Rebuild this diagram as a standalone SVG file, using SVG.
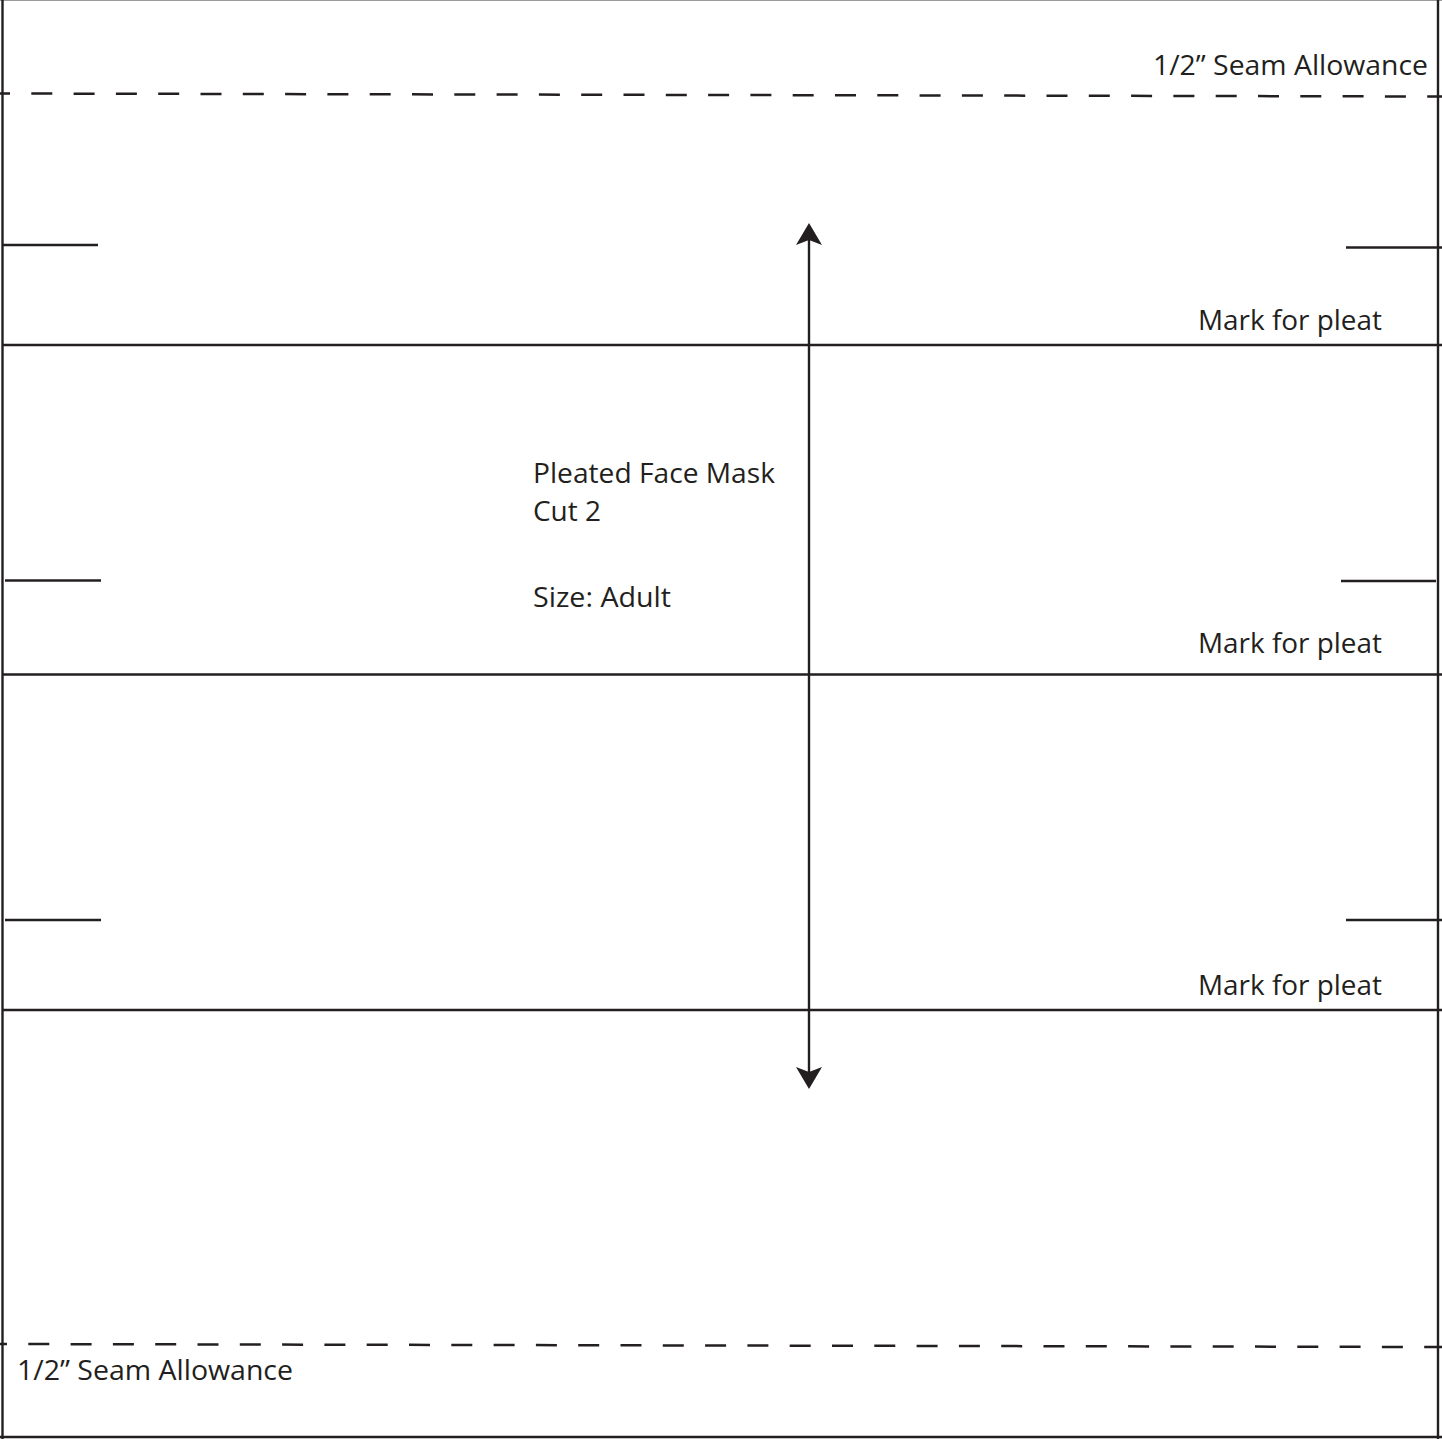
<svg xmlns="http://www.w3.org/2000/svg" width="1442" height="1439" viewBox="0 0 1442 1439">
<style>
.ln{stroke:#231f20;stroke-width:2.4;fill:none}
.dash{stroke:#231f20;stroke-width:2.5;fill:none;stroke-dasharray:21 21.3}
.t{font-family:"Open Sans","Noto Sans",sans-serif;font-size:27px;fill:#231f20}
.head{fill:#231f20}
</style>
<rect width="1442" height="1439" fill="#ffffff"/>
<g id="border">
<line x1="0" y1="0.5" x2="1442" y2="0.5" style="stroke:#9a9a9a;stroke-width:1"/>
<line class="ln" x1="2.5" y1="0" x2="2.5" y2="1439"/>
<line class="ln" x1="1438" y1="0" x2="1438" y2="1439"/>
<line class="ln" x1="0" y1="1437" x2="1442" y2="1437"/>
</g>
<g id="seam-lines">
<line class="dash" x1="0" y1="93.5" x2="1442" y2="96.5" style="stroke-dashoffset:11"/>
<line class="dash" x1="0" y1="1344" x2="1442" y2="1347" style="stroke-dashoffset:14"/>
</g>
<g id="pleat-lines">
<line class="ln" x1="3" y1="345" x2="1442" y2="345"/>
<line class="ln" x1="3" y1="674.5" x2="1442" y2="674.5"/>
<line class="ln" x1="3" y1="1010" x2="1442" y2="1010"/>
</g>
<g id="pleat-ticks">
<line class="ln" x1="3" y1="245" x2="98" y2="245"/>
<line class="ln" x1="1346" y1="247.5" x2="1442" y2="247.5"/>
<line class="ln" x1="5" y1="580.5" x2="101" y2="580.5"/>
<line class="ln" x1="1341" y1="581" x2="1436" y2="581"/>
<line class="ln" x1="5" y1="920" x2="101" y2="920"/>
<line class="ln" x1="1346" y1="920" x2="1442" y2="920"/>
</g>
<g id="grainline">
<line class="ln" x1="809" y1="236" x2="809" y2="1076"/>
<polygon class="head" points="809,223 796,245 809,240 822,245"/>
<polygon class="head" points="809,1089 796,1067 809,1072 822,1067"/>
</g>
<g id="labels">
<text class="t" x="1153" y="75" textLength="275" lengthAdjust="spacingAndGlyphs">1/2” Seam Allowance</text>
<text class="t" x="1198" y="330" textLength="184" lengthAdjust="spacingAndGlyphs">Mark for pleat</text>
<text class="t" x="1198" y="653" textLength="184" lengthAdjust="spacingAndGlyphs">Mark for pleat</text>
<text class="t" x="1198" y="995" textLength="184" lengthAdjust="spacingAndGlyphs">Mark for pleat</text>
<text class="t" x="533" y="483" textLength="242" lengthAdjust="spacingAndGlyphs">Pleated Face Mask</text>
<text class="t" x="533" y="521" textLength="68" lengthAdjust="spacingAndGlyphs">Cut 2</text>
<text class="t" x="533" y="607" textLength="138" lengthAdjust="spacingAndGlyphs">Size: Adult</text>
<text class="t" x="17" y="1380" textLength="276" lengthAdjust="spacingAndGlyphs">1/2” Seam Allowance</text>
</g>
</svg>
